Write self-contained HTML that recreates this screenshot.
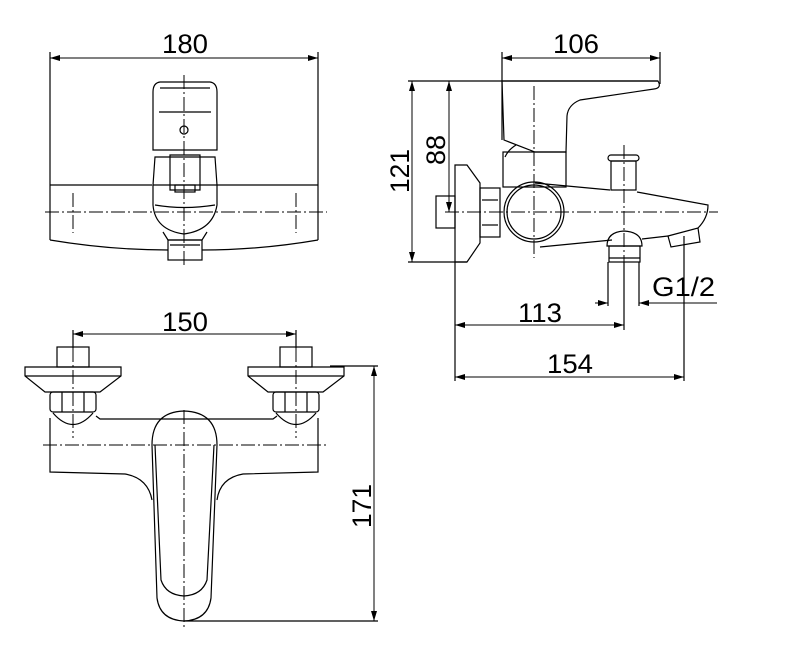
<!DOCTYPE html>
<html><head><meta charset="utf-8"><style>
html,body{margin:0;padding:0;background:#fff;}
svg{display:block}
text{font-family:"Liberation Sans",sans-serif;font-size:27px;fill:#000}
</style></head><body>
<svg width="785" height="659" viewBox="0 0 785 659" xmlns="http://www.w3.org/2000/svg">
<defs>
<marker id="a" viewBox="0 0 10 6" refX="10" refY="3" markerWidth="10" markerHeight="6" orient="auto-start-reverse" markerUnits="userSpaceOnUse"><path d="M0,0 L10,3 L0,6 Z" fill="#000"/></marker>
</defs>
<g fill="none" stroke="#000" stroke-width="1.2">
<line x1="50" y1="52" x2="50" y2="240"/><line x1="318" y1="52" x2="318" y2="240"/>
<line x1="50" y1="58" x2="318" y2="58" marker-start="url(#a)" marker-end="url(#a)" stroke-width="1"/>
<line x1="50" y1="185" x2="152" y2="185"/><line x1="217" y1="185" x2="318" y2="185"/>
<path d="M50,240 Q110,250 168,250"/><path d="M202,250 Q260,250 318,240"/>
<path d="M153,150 L153,92 Q153,83 160,82 L210,82 Q217,83 217,92 L217,150 Z"/>
<line x1="160" y1="88" x2="210" y2="88"/><line x1="159" y1="112" x2="211" y2="112"/>
<circle cx="184" cy="130" r="4"/>
<path d="M155,157 L215,157 L217,185 L153,185 Z"/>
<path d="M153,185 L153,205 Q155,230 184,234 Q213,230 217,205 L217,185"/>
<path d="M155,205 Q184,210 215,205"/>
<path d="M170,155 L200,155 L200,190 L170,190 Z"/><rect x="175" y="185" width="20" height="7"/>
<path d="M163,232 L168,240 L202,240 L207,232"/>
<rect x="168" y="240" width="34" height="20"/>
<line x1="170" y1="245" x2="200" y2="245"/>
<line x1="502" y1="52" x2="502" y2="140"/><line x1="660" y1="52" x2="660" y2="84"/>
<line x1="502" y1="58" x2="660" y2="58" marker-start="url(#a)" marker-end="url(#a)" stroke-width="1"/>
<line x1="408" y1="81" x2="658" y2="81"/>
<line x1="412" y1="81" x2="412" y2="262" marker-start="url(#a)" marker-end="url(#a)" stroke-width="1"/>
<line x1="449" y1="81" x2="449" y2="212" marker-start="url(#a)" marker-end="url(#a)" stroke-width="1"/>
<line x1="408" y1="262" x2="467" y2="262"/>
<path d="M502,81 L658,81 Q662,88 654,89 L580,100 Q568,105 567,116 L566,152 L535,152 L504,140 Z"/>
<path d="M516,145 Q508,150 505,157"/>
<rect x="503" y="152" width="63" height="35"/>
<path d="M535,183 L610,190 M637,192 L708,205 Q708,218 698,228"/>
<path d="M540,247 L612,240 M642,239 L668,236"/>
<path d="M668,236 L698,228 L700,242 L671,247 Z"/>
<circle cx="534" cy="212" r="30"/><circle cx="534" cy="212" r="27"/>
<path d="M455,165 L467,165 L480,183 L480,243 L467,262 L455,262 Z"/>
<rect x="480" y="188" width="20" height="49"/>
<line x1="482" y1="200" x2="498" y2="200"/><line x1="482" y1="225" x2="498" y2="225"/>
<rect x="436" y="196" width="19" height="32"/>
<rect x="608" y="155" width="31" height="6" rx="3"/>
<rect x="611" y="161" width="25" height="29"/>
<path d="M607,246 Q607,232 624,231 Q642,232 642,246 Z"/>
<rect x="609" y="246" width="31" height="16"/>
<line x1="609" y1="258" x2="640" y2="258"/>
<line x1="455" y1="262" x2="455" y2="381"/>
<line x1="624" y1="262" x2="624" y2="330"/>
<line x1="455" y1="325" x2="624" y2="325" marker-start="url(#a)" marker-end="url(#a)" stroke-width="1"/>
<line x1="608" y1="262" x2="608" y2="306"/><line x1="639" y1="262" x2="639" y2="306"/>
<line x1="595" y1="303" x2="608" y2="303" marker-end="url(#a)" stroke-width="1"/>
<line x1="717" y1="303" x2="639" y2="303" marker-end="url(#a)" stroke-width="1"/>
<line x1="684" y1="236" x2="684" y2="381"/>
<line x1="455" y1="377" x2="684" y2="377" marker-start="url(#a)" marker-end="url(#a)" stroke-width="1"/>
<line x1="73" y1="334" x2="296" y2="334" marker-start="url(#a)" marker-end="url(#a)" stroke-width="1"/>
<line x1="73" y1="330" x2="73" y2="348"/><line x1="296" y1="330" x2="296" y2="348"/>
<g id="fl">
<rect x="57" y="347" width="32" height="20"/>
<path d="M25,367 L121,367 L121,376 L100,392 L45,392 L25,376 Z"/>
<line x1="25" y1="376" x2="121" y2="376"/>
<rect x="50" y="392" width="46" height="20" rx="3"/>
<line x1="62" y1="392" x2="62" y2="412"/><line x1="84" y1="392" x2="84" y2="412"/>
<path d="M53,413 Q73,436 93,413"/>
</g>
<use href="#fl" transform="translate(223,0)"/>
<path d="M96,416 L100,419 L273,419 L277,416"/>
<path d="M50,418 L50,472 L125,474 Q148,478 152,500"/>
<path d="M318,418 L318,472 L243,474 Q220,478 217,500"/>
<path d="M184,411 Q217,412 217,445 L211,598 Q208,620 184,621 Q160,620 157,598 L152,445 Q152,412 184,411 Z"/>
<path d="M155,445 L161,580 Q166,595 184,596 Q202,595 207,580 L214,445"/>
<line x1="330" y1="366" x2="378" y2="366"/>
<line x1="184" y1="621" x2="378" y2="621"/>
<line x1="374" y1="366" x2="374" y2="621" marker-start="url(#a)" marker-end="url(#a)" stroke-width="1"/>
</g>
<g fill="none" stroke="#000" stroke-width="1" stroke-dasharray="14,3,2,3">
<line x1="184" y1="75" x2="184" y2="268"/>
<line x1="45" y1="212" x2="327" y2="212"/>
<line x1="73" y1="193" x2="73" y2="233"/><line x1="296" y1="193" x2="296" y2="233"/>
<line x1="534" y1="86" x2="534" y2="258"/>
<line x1="624" y1="145" x2="624" y2="262"/>
<line x1="445" y1="212" x2="718" y2="212"/>
<line x1="43" y1="445" x2="327" y2="445"/>
<line x1="73" y1="348" x2="73" y2="438"/><line x1="296" y1="348" x2="296" y2="438"/>
<line x1="184" y1="410" x2="184" y2="630"/>
</g>
<text x="162" y="53" textLength="46" lengthAdjust="spacingAndGlyphs">180</text>
<text x="553" y="53" textLength="46" lengthAdjust="spacingAndGlyphs">106</text>
<text x="162" y="331" textLength="46" lengthAdjust="spacingAndGlyphs">150</text>
<text x="518" y="322" textLength="44" lengthAdjust="spacingAndGlyphs">113</text>
<text x="547" y="373" textLength="46" lengthAdjust="spacingAndGlyphs">154</text>
<text x="652" y="296" textLength="63" lengthAdjust="spacingAndGlyphs">G1/2</text>
<text transform="translate(409,193) rotate(-90)" textLength="44" lengthAdjust="spacingAndGlyphs">121</text>
<text transform="translate(445,165) rotate(-90)" textLength="30" lengthAdjust="spacingAndGlyphs">88</text>
<text transform="translate(371,528) rotate(-90)" textLength="44" lengthAdjust="spacingAndGlyphs">171</text>
</svg>
</body></html>
